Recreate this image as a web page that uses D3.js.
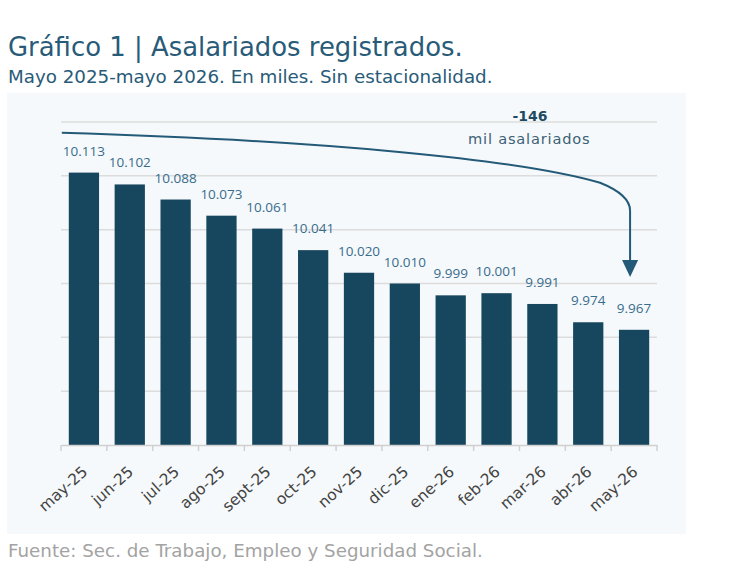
<!DOCTYPE html>
<html>
<head>
<meta charset="utf-8">
<script src="https://cdn.jsdelivr.net/npm/d3@7"></script>
<style>
  body { margin: 0; background: #ffffff; }
  svg { font-family: "DejaVu Sans", "Open Sans", sans-serif; }
</style>
</head>
<body>
<div id="chart"></div>
<script>
// data (miles de asalariados)
var months = ["may-25", "jun-25", "jul-25", "ago-25", "sept-25", "oct-25", "nov-25",
              "dic-25", "ene-26", "feb-26", "mar-26", "abr-26", "may-26"];
var values = [10113, 10102, 10088, 10073, 10061, 10041, 10020,
              10010, 9999, 10001, 9991, 9974, 9967];
var yTicks = [9860, 9910, 9960, 10010, 10060, 10110, 10160];

var fmt = function(v) { return d3.format(",")(v).replace(/,/g, "."); };

var width = 730, height = 570;
var plot = {left: 61, right: 657, top: 122, bottom: 445};

var svg = d3.select("#chart").append("svg")
  .attr("width", width)
  .attr("height", height);

// scale the font so a text line spans the wanted width
function fit(sel, target) {
  var size = parseFloat(sel.style("font-size"));
  var w = sel.node().getComputedTextLength();
  sel.style("font-size", (size * target / w) + "px");
  return sel;
}

// panel background
svg.append("rect")
  .attr("x", 7).attr("y", 93)
  .attr("width", 679).attr("height", 441)
  .attr("fill", "#f6f9fb");

// titles
fit(svg.append("text")
  .attr("x", 8).attr("y", 55.5)
  .attr("fill", "#285b78")
  .style("font-size", "24px")
  .text("Gráfico 1 | Asalariados registrados."), 455);

fit(svg.append("text")
  .attr("x", 8).attr("y", 82.5)
  .attr("fill", "#285b78")
  .style("font-size", "16px")
  .text("Mayo 2025-mayo 2026. En miles. Sin estacionalidad."), 485);

var x = d3.scaleBand()
  .domain(months)
  .range([plot.left, plot.right])
  .paddingInner(0.34)
  .paddingOuter(0.17);

var y = d3.scaleLinear()
  .domain([yTicks[0], yTicks[yTicks.length - 1]])
  .range([plot.bottom, plot.top]);

// gridlines
svg.append("g")
  .selectAll("line")
  .data(yTicks.slice(1))
  .enter()
  .append("line")
  .attr("x1", plot.left).attr("x2", plot.right)
  .attr("y1", function(d) { return y(d); })
  .attr("y2", function(d) { return y(d); })
  .attr("stroke", "#dcdcdc")
  .attr("stroke-width", 1.5);

// bars
svg.append("g")
  .selectAll("rect")
  .data(values)
  .enter()
  .append("rect")
  .attr("x", function(d, i) { return x(months[i]); })
  .attr("y", function(d) { return y(d); })
  .attr("width", x.bandwidth())
  .attr("height", function(d) { return plot.bottom - y(d); })
  .attr("fill", "#17475f");

// value labels
svg.append("g")
  .selectAll("text")
  .data(values)
  .enter()
  .append("text")
  .attr("x", function(d, i) { return x(months[i]) + x.bandwidth() / 2; })
  .attr("y", function(d) { return y(d) - 17; })
  .attr("text-anchor", "middle")
  .attr("fill", "#386d8d")
  .style("font-family", "'Open Sans', sans-serif")
  .style("font-size", "13.5px")
  .text(fmt);

// x axis
var xAxis = svg.append("g")
  .attr("transform", "translate(0," + plot.bottom + ")")
  .call(d3.axisBottom(x).tickSize(0).tickPadding(0));
xAxis.select(".domain").attr("stroke", "#d0d0d0").attr("stroke-width", 1.5);
xAxis.selectAll(".tick text")
  .attr("fill", "#444444")
  .style("font-family", "'DejaVu Sans', sans-serif")
  .style("font-size", "15.5px")
  .attr("text-anchor", "end")
  .attr("x", 0).attr("y", 0)
  .attr("dy", "0.35em")
  .attr("transform", "translate(1,24) rotate(-42)");

// separator ticks between categories
var sep = months.map(function(m) { return x(m) - x.step() * x.paddingInner() / 2; });
sep.push(plot.right);
sep[0] = plot.left;
svg.append("g")
  .selectAll("line")
  .data(sep)
  .enter()
  .append("line")
  .attr("x1", function(d) { return d; }).attr("x2", function(d) { return d; })
  .attr("y1", plot.bottom).attr("y2", plot.bottom + 6)
  .attr("stroke", "#d0d0d0")
  .attr("stroke-width", 1.5);

// annotation arrow from first to last month
var first = months[0], last = months[months.length - 1];
var x0 = x(first) - 7, x1 = x(last) + x.bandwidth() / 2 - 4;
var yStart = y(10150), yTip = y(10016);
var path = d3.path();
path.moveTo(x0, yStart);
path.bezierCurveTo(330, yStart + 8, 520, yStart + 27, x1 - 30, yStart + 50);
path.quadraticCurveTo(x1, yStart + 62, x1, yStart + 78);
path.lineTo(x1, yTip - 16);
svg.append("path")
  .attr("d", path.toString())
  .attr("fill", "none")
  .attr("stroke", "#235a78")
  .attr("stroke-width", 2);
svg.append("path")
  .attr("d", "M" + (x1 - 8) + "," + (yTip - 17) + "L" + (x1 + 8) + "," + (yTip - 17) + "L" + x1 + "," + yTip + "Z")
  .attr("fill", "#235a78");

var change = values[values.length - 1] - values[0];
svg.append("text")
  .attr("x", 530).attr("y", 121)
  .attr("text-anchor", "middle")
  .attr("fill", "#1d4a63")
  .style("font-size", "14px")
  .style("font-weight", "bold")
  .text(change);
fit(svg.append("text")
  .attr("x", 468).attr("y", 143.5)
  .attr("fill", "#3d6177")
  .style("font-size", "13px")
  .style("letter-spacing", "0.8px")
  .text("mil asalariados"), 124);

// source
fit(svg.append("text")
  .attr("x", 8).attr("y", 557)
  .attr("fill", "#a3a3a3")
  .style("font-size", "15px")
  .text("Fuente: Sec. de Trabajo, Empleo y Seguridad Social."), 475);
</script>
</body>
</html>
